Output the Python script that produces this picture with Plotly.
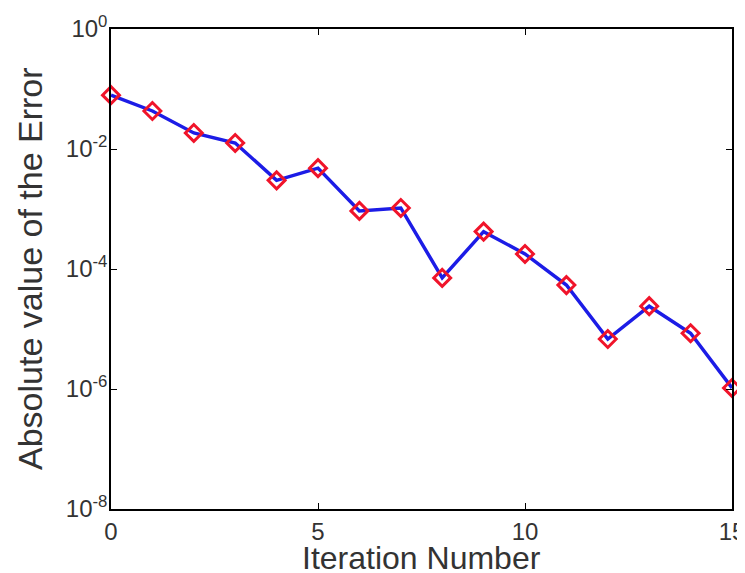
import plotly.graph_objects as go

iterations = list(range(16))
errors = [0.079, 0.043, 0.0185, 0.0126, 0.0030, 0.0048, 0.00093, 0.00104,
          7.1e-5, 4.2e-4, 1.78e-4, 5.4e-5, 6.8e-6, 2.4e-5, 8.5e-6, 1.04e-6]

x_ticks = [0, 5, 10, 15]
y_tickvals = [1e0, 1e-2, 1e-4, 1e-6, 1e-8]
y_ticktext = ["10<sup>0</sup>", "10<sup>-2</sup>", "10<sup>-4</sup>", "10<sup>-6</sup>", "10<sup>-8</sup>"]
x_title = "Iteration Number"
y_title = "Absolute value of the Error"

fig = go.Figure()
fig.add_trace(go.Scatter(
    x=iterations, y=errors, mode="lines+markers",
    line=dict(color="#1c1ce6", width=3.5),
    marker=dict(symbol="diamond-open", size=13, color="#f0142a", line=dict(width=3, color="#f0142a")),
    showlegend=False, cliponaxis=False,
))

font = dict(family="Liberation Sans, Arial, sans-serif", color="#333333")
fig.update_layout(
    width=745, height=573,
    margin=dict(l=103, r=21, t=21, b=72, autoexpand=False),
    paper_bgcolor="white", plot_bgcolor="white",
    font=font,
    xaxis=dict(
        range=[0, 15], tickvals=x_ticks, ticks="inside", ticklen=6, tickcolor="black",
        showline=True, linecolor="black", linewidth=1.5, mirror="ticks", showgrid=False,
        zeroline=False, tickfont=dict(size=24), automargin=False,
    ),
    yaxis=dict(
        type="log", range=[-8, 0], tickvals=y_tickvals, ticktext=y_ticktext,
        ticks="inside", ticklen=6, tickcolor="black",
        showline=True, linecolor="black", linewidth=1.5, mirror="ticks", showgrid=False,
        zeroline=False, tickfont=dict(size=24), automargin=False, ticklabelstandoff=-3,
    ),
    annotations=[
        dict(text=x_title, xref="paper", yref="paper", x=0.5, y=0,
             xanchor="center", yanchor="middle", yshift=-49, showarrow=False,
             font=dict(size=32)),
        dict(text=y_title, xref="paper", yref="paper", x=0, y=0.5, textangle=-90,
             xanchor="center", yanchor="middle", xshift=-81, showarrow=False,
             font=dict(size=34)),
    ],
)

fig.write_html("out.html")
